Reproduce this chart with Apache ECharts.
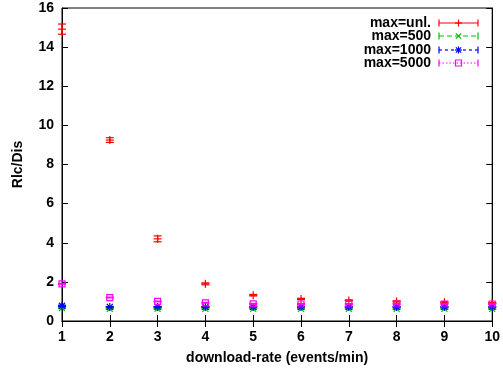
<!DOCTYPE html>
<html><head><meta charset="utf-8">
<script src="https://cdn.jsdelivr.net/npm/echarts@6/dist/echarts.min.js"></script>
<style>html,body{margin:0;padding:0;background:#fff}#c{width:503px;height:371px}</style>
</head><body><div id="c"></div>
<script>
const rates = [1,2,3,4,5,6,7,8,9,10];
const unlMean = [14.92, 9.25, 4.2, 1.9, 1.32, 1.13, 1.05, 1.0, 0.96, 0.92];
const unlErr  = [0.26, 0.12, 0.15, 0.05, 0.04, 0.03, 0.03, 0.03, 0.03, 0.03];
const m500Mean = [0.66, 0.62, 0.62, 0.62, 0.62, 0.62, 0.62, 0.62, 0.62, 0.62];
const m500Err  = [0.03, 0.02, 0.02, 0.02, 0.02, 0.02, 0.02, 0.02, 0.02, 0.02];
const m1000Mean = [0.78, 0.72, 0.72, 0.72, 0.72, 0.72, 0.72, 0.72, 0.72, 0.72];
const m1000Err  = [0.03, 0.02, 0.02, 0.02, 0.02, 0.02, 0.02, 0.02, 0.02, 0.02];
const m5000Mean = [1.9, 1.2, 1.0, 0.93, 0.88, 0.87, 0.87, 0.87, 0.87, 0.87];
const m5000Err  = [0.02, 0.02, 0.02, 0.02, 0.02, 0.02, 0.02, 0.02, 0.02, 0.02];
const seriesNames = ['max=unl.', 'max=500', 'max=1000', 'max=5000'];
const colors = ['#ff0000', '#00c000', '#0000ff', '#ff00ff'];
const shapes = ['plus', 'cross', 'star', 'square'];

function markerShapes(shape, cx, cy, s, color) {
  const st = {stroke: color, lineWidth: 1.2, fill: null};
  const out = [];
  if (shape === 'plus' || shape === 'star') {
    out.push({type:'line', shape:{x1:cx-s,y1:cy,x2:cx+s,y2:cy}, style:st});
    out.push({type:'line', shape:{x1:cx,y1:cy-s,x2:cx,y2:cy+s}, style:st});
  }
  if (shape === 'cross' || shape === 'star') {
    const d = s*0.75;
    out.push({type:'line', shape:{x1:cx-d,y1:cy-d,x2:cx+d,y2:cy+d}, style:st});
    out.push({type:'line', shape:{x1:cx-d,y1:cy+d,x2:cx+d,y2:cy-d}, style:st});
  }
  if (shape === 'square') {
    out.push({type:'rect', shape:{x:cx-3,y:cy-3,width:6,height:6}, style:st});
  }
  return out;
}

function makeSeries(idx, means, errs) {
  const data = rates.map((r,i) => [r, means[i], means[i]-errs[i], means[i]+errs[i]]);
  return {
    type: 'custom', name: seriesNames[idx], clip: false, z: 10 + idx,
    data: data,
    encode: {x: 0, y: [1,2,3]},
    renderItem: function(params, api) {
      const x = api.value(0);
      const c = api.coord([x, api.value(1)]);
      const lo = api.coord([x, api.value(2)]);
      const hi = api.coord([x, api.value(3)]);
      const col = colors[idx];
      const st = {stroke: col, lineWidth: 1.2};
      const cw = 4;
      const children = [
        {type:'line', shape:{x1:c[0],y1:lo[1],x2:c[0],y2:hi[1]}, style:st},
        {type:'line', shape:{x1:c[0]-cw,y1:lo[1],x2:c[0]+cw,y2:lo[1]}, style:st},
        {type:'line', shape:{x1:c[0]-cw,y1:hi[1],x2:c[0]+cw,y2:hi[1]}, style:st}
      ].concat(markerShapes(shapes[idx], c[0], c[1], 4, col));
      return {type:'group', children: children};
    }
  };
}

const font = 'Liberation Sans, Arial, sans-serif';
const FS = 14;
const chart = echarts.init(document.getElementById('c'), null, {renderer:'canvas'});

const legendRows = [23, 36, 50, 63];
const legendDash = [null, [5,3], [3,3], [1.5,2]];
const legendEls = [];
seriesNames.forEach((n, i) => {
  const y = legendRows[i];
  legendEls.push({type:'text', x: 431, y: y, style:{text:n, font:'bold '+FS+'px '+font, fill:'#000', textAlign:'right', textVerticalAlign:'middle'}});
  legendEls.push({type:'line', shape:{x1:439,y1:y,x2:478,y2:y}, style:{stroke: colors[i], lineWidth: 1.2, lineDash: legendDash[i]}, z:20});
  legendEls.push({type:'line', shape:{x1:439,y1:y-3.5,x2:439,y2:y+3.5}, style:{stroke:colors[i],lineWidth:1.2}, z:20});
  legendEls.push({type:'line', shape:{x1:478,y1:y-3.5,x2:478,y2:y+3.5}, style:{stroke:colors[i],lineWidth:1.2}, z:20});
  markerShapes(shapes[i], 458.5, y, 3.5, colors[i]).forEach(e => { e.z = 21; legendEls.push(e); });
});

const axisLineStyle = {color:'#000', width:1};
const tick = {show:true, inside:true, length:6, lineStyle:axisLineStyle};
chart.setOption({
  animation: false,
  backgroundColor: '#fff',
  grid: {left: 62, right: 8, top: 8, bottom: 50, show: true, borderColor: '#000', borderWidth: 1},
  xAxis: [
    {type:'value', min:1, max:10, interval:1, position:'bottom',
     axisLine:{show:true, lineStyle:axisLineStyle}, axisTick:tick,
     splitLine:{show:false},
     axisLabel:{color:'#000', fontWeight:'bold', fontSize:FS, fontFamily:font, margin:9},
     name:'download-rate (events/min)', nameLocation:'middle', nameGap:30,
     nameTextStyle:{color:'#000', fontWeight:'bold', fontSize:FS, fontFamily:font}},
    {type:'value', min:1, max:10, interval:1, position:'top',
     axisLine:{show:true, lineStyle:axisLineStyle}, axisTick:tick,
     axisLabel:{show:false}, splitLine:{show:false}}
  ],
  yAxis: [
    {type:'value', min:0, max:16, interval:2, position:'left',
     axisLine:{show:true, lineStyle:axisLineStyle}, axisTick:tick,
     splitLine:{show:false},
     axisLabel:{color:'#000', fontWeight:'bold', fontSize:FS, fontFamily:font, margin:8},
     name:'Rlc/Dis', nameLocation:'middle', nameGap:37, nameRotate:90,
     nameTextStyle:{color:'#000', fontWeight:'bold', fontSize:FS, fontFamily:font}},
    {type:'value', min:0, max:16, interval:2, position:'right',
     axisLine:{show:true, lineStyle:axisLineStyle}, axisTick:tick,
     axisLabel:{show:false}, splitLine:{show:false}}
  ],
  series: [
    makeSeries(1, m500Mean, m500Err),
    makeSeries(2, m1000Mean, m1000Err),
    makeSeries(3, m5000Mean, m5000Err),
    makeSeries(0, unlMean, unlErr)
  ],
  graphic: legendEls
});
</script></body></html>
